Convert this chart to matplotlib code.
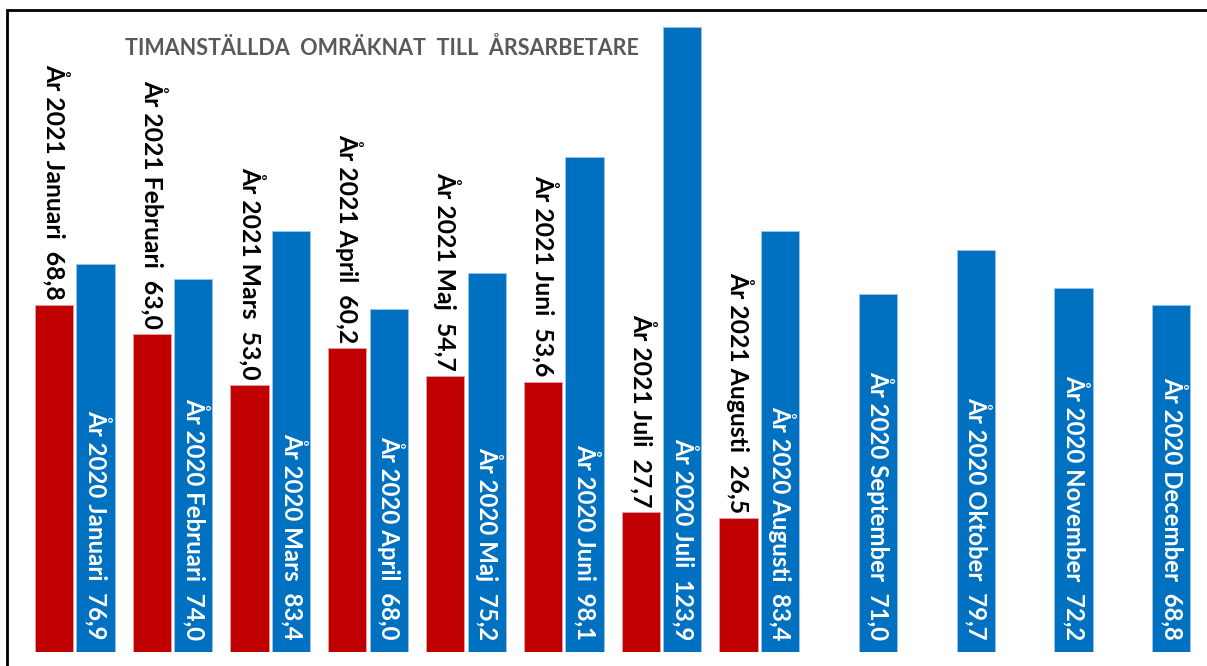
import matplotlib
matplotlib.use('Agg')
import matplotlib.pyplot as plt
from matplotlib.patches import Rectangle

months=['Januari','Februari','Mars','April','Maj','Juni','Juli','Augusti',
        'September','Oktober','November','December']
vals_2020=[76.9,74.0,83.4,68.0,75.2,98.1,123.9,83.4,71.0,79.7,72.2,68.8]
vals_2021=[68.8,63.0,53.0,60.2,54.7,53.6,27.7,26.5]

red='#C00000'
blue='#0070C0'
plt.rcParams['font.family']=['Lato','DejaVu Sans']

fig=plt.figure(figsize=(12.07,6.66),dpi=100)
ax=fig.add_axes([0.0214,0.021,0.9723,0.962])
ax.set_xlim(-0.5,11.5)
ax.set_ylim(0,127)
ax.axis('off')

def fmt(v):
    return f'{v:.1f}'.replace('.',',')

w=0.39
off=0.2125
for i,v in enumerate(vals_2020):
    ax.bar(i+off,v,width=w,color=blue,edgecolor='#9DC3E6',linewidth=0.6)
    ax.text(i+off+0.02,2.4,f'År 2020 {months[i]}  {fmt(v)}',rotation=270,
            rotation_mode='anchor',ha='right',va='center',color='white',
            fontsize=17.3,fontweight='bold')
for i,v in enumerate(vals_2021):
    ax.bar(i-off,v,width=w,color=red,edgecolor='#E8A0A0',linewidth=0.6)
    ax.text(i-off+0.02,v+1.0,f'År 2021 {months[i]}  {fmt(v)}',rotation=270,
            rotation_mode='anchor',ha='right',va='center',color='black',
            fontsize=17.8,fontweight='bold')

fig.text(125/1207,1-48/666,'TIMANSTÄLLDA  OMRÄKNAT  TILL  ÅRSARBETARE',
         ha='left',va='center',color='#595959',fontsize=15.5,fontweight='bold')

fig.add_artist(Rectangle((7/1207,-0.05),1.2,1-10/666+0.05,transform=fig.transFigure,
                         fill=False,edgecolor='black',linewidth=2))

fig.savefig('out.png',dpi=100)
